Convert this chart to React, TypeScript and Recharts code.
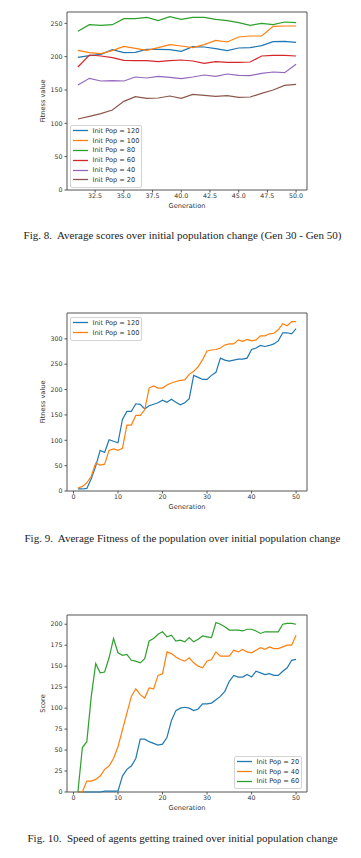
import React from "react";
import { LineChart, Line, XAxis, YAxis, Legend, ReferenceArea } from "recharts";

// Fig. 8 - generations 31..50
const lateGens = [31, 32, 33, 34, 35, 36, 37, 38, 39, 40, 41, 42, 43, 44, 45, 46, 47, 48, 49, 50];
const late120 = [199, 201.5, 203.5, 210.5, 206, 206.5, 211, 211, 210.5, 208, 215, 214.5, 212, 209, 213, 213.5, 216.5, 222.5, 223, 221.5];
const late100 = [209.5, 206, 204.5, 209, 215.5, 212.5, 209.5, 213.5, 218, 216, 213.5, 218, 224.5, 222, 229.5, 231, 231, 245.5, 246, 246];
const late80 = [238, 248, 247, 248, 257, 257, 259, 254, 260, 256, 259, 259, 256, 254, 251, 247, 250, 248, 252, 251];
const late60 = [184.5, 202.5, 201, 198.5, 194.5, 194, 194, 192.5, 194, 195, 193.5, 190, 192.5, 191.5, 191.5, 192, 201, 202, 202, 201];
const late40 = [157.5, 167.5, 163.5, 164, 163.5, 169.5, 168, 170.5, 169, 167, 169.5, 172.5, 170.5, 174, 172, 171.5, 175, 177, 176, 188.5];
const late20 = [106.5, 110.5, 114.5, 120, 133, 140, 137.5, 138, 141, 137.5, 143.5, 142, 140.5, 141.5, 139, 139.5, 145, 150, 157, 158.5];
const lateXTicks = [32.5, 35, 37.5, 40, 42.5, 45, 47.5, 50];
const lateYTicks = [0, 50, 100, 150, 200, 250];

// Fig. 9 - average fitness, generations 1..50
const allGens = Array.from({ length: 50 }, (_, i) => i + 1);
const fit120 = [4, 4, 5, 24, 49, 80, 76, 101, 98, 95, 141, 157, 157, 172, 171, 162, 168, 171, 174, 179, 175, 181, 175, 170, 174, 182, 228, 224, 220, 220, 228, 234, 262, 258, 256, 258, 260, 260, 262, 279, 282, 287, 285, 287, 290, 296, 312, 312, 310, 320];
const fit100 = [6, 9, 16, 29, 55, 51, 53, 80, 83, 80, 84, 130, 130, 149, 149, 160, 203, 207, 203, 203, 209, 213, 216, 218, 219, 230, 236, 245, 259, 276, 278, 279, 282, 288, 290, 290, 298, 295, 299, 296, 298, 306, 306, 310, 311, 318, 330, 326, 334, 334];
const fitYTicks = [0, 50, 100, 150, 200, 250, 300];
const genTicks = [0, 10, 20, 30, 40, 50];

// Fig. 10 - score, generations 1..50
const score20 = [0, 0, 0, 0, 0, 0, 1, 1, 1, 1, 19, 27, 31, 40, 63, 63, 60, 58, 56, 57, 65, 85, 97, 100, 101, 100, 97, 99, 105, 105, 106, 110, 114, 120, 132, 139, 137, 137, 140, 137, 144, 142, 140, 141, 139, 139, 144, 148, 157, 158];
const score40 = [0, 0, 13, 13, 15, 19, 27, 31, 40, 54, 74, 94, 114, 123, 116, 112, 124, 123, 139, 141, 167, 165, 161, 158, 156, 160, 154, 150, 148, 156, 158, 167, 162, 162, 162, 169, 167, 170, 167, 166, 169, 172, 170, 173, 171, 171, 173, 175, 175, 187];
const score60 = [0, 53, 60, 114, 153, 142, 143, 160, 183, 166, 163, 164, 157, 156, 154, 159, 180, 183, 188, 191, 185, 187, 180, 181, 179, 184, 179, 182, 186, 185, 184, 202, 200, 197, 193, 193, 193, 192, 194, 194, 192, 189, 191, 191, 191, 191, 200, 201, 201, 200];
const scoreYTicks = [0, 25, 50, 75, 100, 125, 150, 175, 200];

const C = {
  blue: "#1f77b4",
  orange: "#ff7f0e",
  green: "#2ca02c",
  red: "#d62728",
  purple: "#9467bd",
  brown: "#8c564b",
};

const lateData = lateGens.map((g, i) => ({
  gen: g,
  p120: late120[i],
  p100: late100[i],
  p80: late80[i],
  p60: late60[i],
  p40: late40[i],
  p20: late20[i],
}));
const fitData = allGens.map((g, i) => ({ gen: g, p120: fit120[i], p100: fit100[i] }));
const scoreData = allGens.map((g, i) => ({ gen: g, p20: score20[i], p40: score40[i], p60: score60[i] }));

const FONT = '"DejaVu Sans", sans-serif';
const tickStyle = { fontSize: 6.3, fill: "#333", fontFamily: FONT };
const frame = "#555";

const LegendBox = (props: any) => {
  const items = props.payload || [];
  return (
    <div
      style={{
        border: "1px solid #d4d4d4",
        borderRadius: 2,
        background: "#fff",
        padding: "0 2px 2px 2px",
        fontFamily: FONT,
        fontSize: 6.6,
        color: "#333",
      }}
    >
      {items.map((p: any) => (
        <div key={p.value} style={{ display: "flex", alignItems: "center", height: 9.8 }}>
          <svg width={15} height={3} style={{ display: "block" }}>
            <line x1={0} y1={1.5} x2={15} y2={1.5} stroke={p.color} strokeWidth={1.3} />
          </svg>
          <span style={{ marginLeft: 4.5, whiteSpace: "nowrap" }}>{p.value}</span>
        </div>
      ))}
    </div>
  );
};

type Series = { key: string; name: string; color: string };

type PanelProps = {
  top: number;
  height: number;
  marginTop: number;
  marginBottom: number;
  data: any[];
  xDomain: [number, number];
  xTicks: number[];
  xFormat?: (v: number) => string;
  yDomain: [number, number];
  yTicks: number[];
  yLabel: string;
  legendPos: { left: number; top: number };
  series: Series[];
};

const Panel: React.FC<PanelProps> = (p) => {
  const order = p.series.map((s) => s.key);
  return (
    <div style={{ position: "absolute", left: 0, top: p.top }}>
      <LineChart
        width={361}
        height={p.height}
        data={p.data}
        margin={{ top: p.marginTop, right: 54, bottom: p.marginBottom, left: 37 }}
        style={{ fontFamily: FONT }}
      >
        <XAxis
          dataKey="gen"
          type="number"
          domain={p.xDomain}
          ticks={p.xTicks}
          tickFormatter={p.xFormat}
          tick={tickStyle}
          tickSize={2.5}
          tickMargin={1.5}
          tickLine={{ stroke: frame }}
          axisLine={false}
          height={24}
          label={{ value: "Generation", position: "insideBottom", offset: 6, style: { fontSize: 6.6, fill: "#333", fontFamily: FONT } }}
        />
        <YAxis
          type="number"
          domain={p.yDomain}
          ticks={p.yTicks}
          tick={tickStyle}
          tickSize={2.5}
          tickMargin={2}
          tickLine={{ stroke: frame }}
          axisLine={false}
          width={30}
          label={{ value: p.yLabel, angle: -90, position: "insideLeft", offset: 6, style: { fontSize: 6.6, fill: "#333", fontFamily: FONT, textAnchor: "middle" } }}
        />
        <ReferenceArea
          x1={p.xDomain[0]}
          x2={p.xDomain[1]}
          y1={p.yDomain[0]}
          y2={p.yDomain[1]}
          fill="none"
          stroke={frame}
          strokeWidth={1}
        />
        {p.series.map((s) => (
          <Line
            key={s.key}
            dataKey={s.key}
            name={s.name}
            stroke={s.color}
            strokeWidth={1.2}
            dot={false}
            type="linear"
            isAnimationActive={false}
          />
        ))}
        <Legend
          layout="vertical"
          align="center"
          verticalAlign="middle"
          itemSorter={(item: any) => order.indexOf(item.dataKey)}
          content={LegendBox}
          wrapperStyle={{ left: p.legendPos.left, top: p.legendPos.top, width: "auto", height: "auto" }}
        />
      </LineChart>
    </div>
  );
};

const captionStyle: React.CSSProperties = {
  position: "absolute",
  left: 2,
  width: 361,
  textAlign: "center",
  fontFamily: '"Liberation Serif", serif',
  fontSize: 11,
  color: "#222",
  whiteSpace: "pre",
  lineHeight: "12px",
};

export default function App() {
  return (
    <div style={{ position: "absolute", left: 0, top: 0, width: 361, height: 858, background: "#fff", overflow: "hidden" }}>
      <Panel
        top={0}
        height={220}
        marginTop={12}
        marginBottom={6}
        data={lateData}
        xDomain={[30.05, 50.95]}
        xTicks={lateXTicks}
        xFormat={(v) => v.toFixed(1)}
        yDomain={[0, 267]}
        yTicks={lateYTicks}
        yLabel="Fitness value"
        legendPos={{ left: 70, top: 125 }}
        series={[
          { key: "p120", name: "Init Pop = 120", color: C.blue },
          { key: "p100", name: "Init Pop = 100", color: C.orange },
          { key: "p80", name: "Init Pop = 80", color: C.green },
          { key: "p60", name: "Init Pop = 60", color: C.red },
          { key: "p40", name: "Init Pop = 40", color: C.purple },
          { key: "p20", name: "Init Pop = 20", color: C.brown },
        ]}
      />
      <div style={{ ...captionStyle, top: 229 }}>{"Fig. 8.  Average scores over initial population change (Gen 30 - Gen 50)"}</div>

      <Panel
        top={295}
        height={220}
        marginTop={18}
        marginBottom={0}
        data={fitData}
        xDomain={[-1.45, 52.45]}
        xTicks={genTicks}
        yDomain={[0, 351]}
        yTicks={fitYTicks}
        yLabel="Fitness value"
        legendPos={{ left: 70, top: 317 - 295 }}
        series={[
          { key: "p120", name: "Init Pop = 120", color: C.blue },
          { key: "p100", name: "Init Pop = 100", color: C.orange },
        ]}
      />
      <div style={{ ...captionStyle, top: 532 }}>{"Fig. 9.  Average Fitness of the population over initial population change"}</div>

      <Panel
        top={600}
        height={217}
        marginTop={15}
        marginBottom={1}
        data={scoreData}
        xDomain={[-1.45, 52.45]}
        xTicks={genTicks}
        yDomain={[0, 211]}
        yTicks={scoreYTicks}
        yLabel="Score"
        legendPos={{ left: 234, top: 756 - 600 }}
        series={[
          { key: "p20", name: "Init Pop = 20", color: C.blue },
          { key: "p40", name: "Init Pop = 40", color: C.orange },
          { key: "p60", name: "Init Pop = 60", color: C.green },
        ]}
      />
      <div style={{ ...captionStyle, top: 832 }}>{"Fig. 10.  Speed of agents getting trained over initial population change"}</div>
    </div>
  );
}
